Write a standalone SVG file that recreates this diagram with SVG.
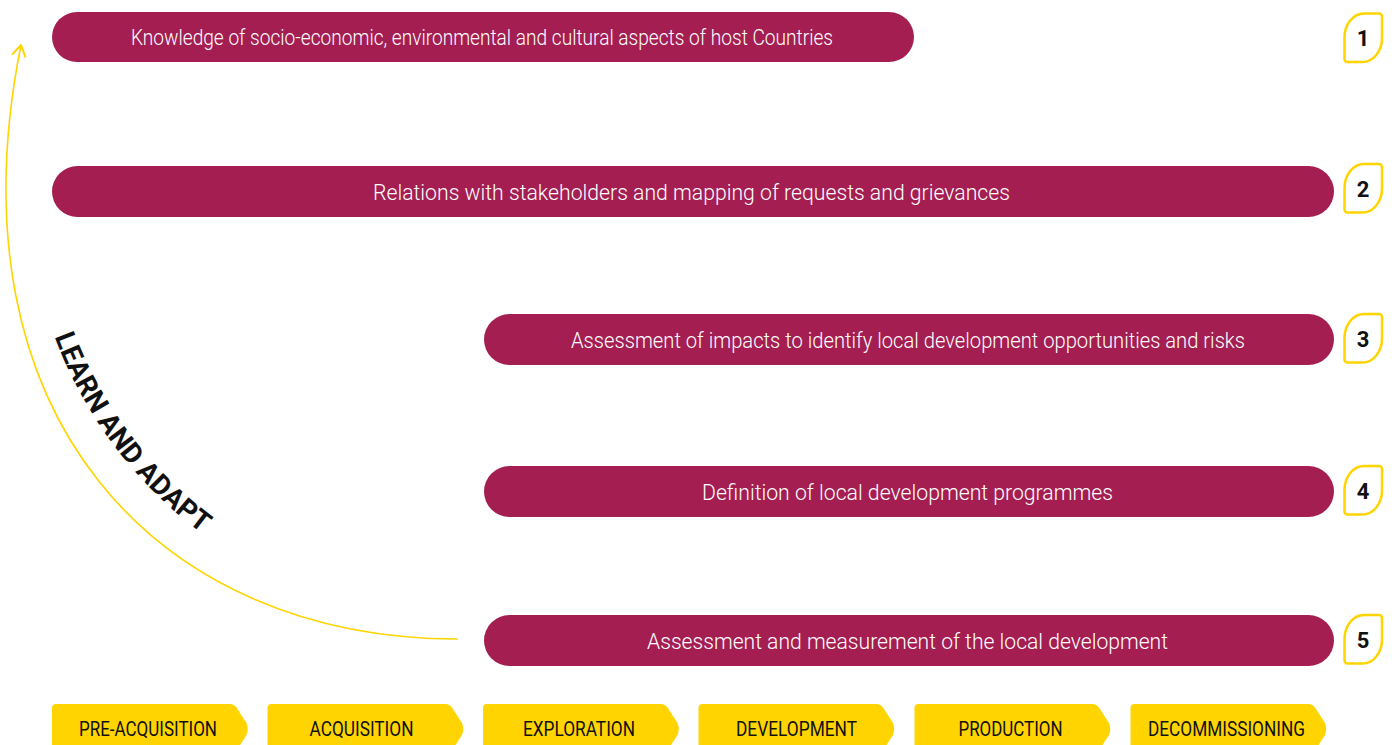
<svg xmlns="http://www.w3.org/2000/svg" width="1392" height="745" viewBox="0 0 1392 745">
  <style>
    .bar { fill: #A41E52; }
    .bartxt { font-family: Roboto, "Liberation Sans", sans-serif; font-weight: 300; font-size: 22px; fill: #FFFFFF; text-anchor: middle; }
    .badge { fill: #FFFFFF; stroke: #FFD400; stroke-width: 2.5; }
    .num { font-family: Roboto, "Liberation Sans", sans-serif; font-weight: 700; font-size: 22px; fill: #111111; text-anchor: middle; }
    .tab { fill: #FFD400; }
    .tabtxt { font-family: Roboto, "Liberation Sans", sans-serif; font-weight: 400; font-size: 21px; fill: #111111; text-anchor: middle; }
    .loop { fill: none; stroke: #FFD400; stroke-width: 1.6; }
    .learn { font-family: Roboto, "Liberation Sans", sans-serif; font-weight: 700; font-size: 28px; fill: #111111; }
  </style>
  <defs>
    <marker id="arrow" markerUnits="userSpaceOnUse" markerWidth="20" markerHeight="20" refX="0" refY="0" viewBox="-12 -8 14 16" orient="auto">
      <path d="M-9,-5.5 L0,0 L-9,5.5" fill="none" stroke="#FFD400" stroke-width="1.6" stroke-linejoin="round"/>
    </marker>
    <path id="badgeShape" d="M0,46 L0,24 A19.5,24 0 0 1 19.5,0 L34.5,0 A3,3 0 0 1 37.5,3 L37.5,24.5 A19.5,24 0 0 1 18,48.5 L3,48.5 A3,3 0 0 1 0,45.5 Z"/>
    <path id="learnPath" d="M49.1,320.5 A432,432 0 0 0 244,561.1"/>
    <path id="tabShape" d="M52,708 Q52,704 56,704 L230,704 Q234,704 236.5,707.5 L246.5,723 Q249,729 246.5,735 L236.5,750.5 Q234,754 230,754 L52,754 Z"/>
  </defs>

  <g id="connectors">
    <path class="loop" d="M458,639 C158,639 -53.5,417 21,45" marker-end="url(#arrow)"/>
  </g>

  <g id="learn-label">
    <text class="learn"><textPath href="#learnPath" startOffset="17">LEARN AND ADAPT</textPath></text>
  </g>

  <g id="node-1">
    <rect class="bar" x="52" y="12" width="862" height="50" rx="25"/>
    <text class="bartxt" x="482" y="45" textLength="702" lengthAdjust="spacingAndGlyphs">Knowledge of socio-economic, environmental and cultural aspects of host Countries</text>
  </g>
  <g id="badge-1">
    <use href="#badgeShape" class="badge" x="1344.5" y="13.5"/>
    <text class="num" x="1363" y="46">1</text>
  </g>

  <g id="node-2">
    <rect class="bar" x="52" y="166" width="1282" height="51" rx="25.5"/>
    <text class="bartxt" x="691.5" y="199.5" textLength="637" lengthAdjust="spacingAndGlyphs">Relations with stakeholders and mapping of requests and grievances</text>
  </g>
  <g id="badge-2">
    <use href="#badgeShape" class="badge" x="1344.5" y="164"/>
    <text class="num" x="1363" y="197">2</text>
  </g>

  <g id="node-3">
    <rect class="bar" x="484" y="314" width="850" height="51" rx="25.5"/>
    <text class="bartxt" x="908" y="347.5" textLength="674" lengthAdjust="spacingAndGlyphs">Assessment of impacts to identify local development opportunities and risks</text>
  </g>
  <g id="badge-3">
    <use href="#badgeShape" class="badge" x="1344.5" y="314"/>
    <text class="num" x="1363" y="347">3</text>
  </g>

  <g id="node-4">
    <rect class="bar" x="484" y="466" width="850" height="51" rx="25.5"/>
    <text class="bartxt" x="907.5" y="499.5" textLength="411" lengthAdjust="spacingAndGlyphs">Definition of local development programmes</text>
  </g>
  <g id="badge-4">
    <use href="#badgeShape" class="badge" x="1344.5" y="466"/>
    <text class="num" x="1363" y="499">4</text>
  </g>

  <g id="node-5">
    <rect class="bar" x="484" y="615" width="850" height="51" rx="25.5"/>
    <text class="bartxt" x="907.5" y="648.5" textLength="521" lengthAdjust="spacingAndGlyphs">Assessment and measurement of the local development</text>
  </g>
  <g id="badge-5">
    <use href="#badgeShape" class="badge" x="1344.5" y="615"/>
    <text class="num" x="1363" y="648">5</text>
  </g>

  <g id="phase-1">
    <use href="#tabShape" class="tab"/>
    <text class="tabtxt" x="148" y="736" textLength="138" lengthAdjust="spacingAndGlyphs">PRE-ACQUISITION</text>
  </g>
  <g id="phase-2" transform="translate(215.5,0)">
    <use href="#tabShape" class="tab"/>
    <text class="tabtxt" x="146" y="736" textLength="104" lengthAdjust="spacingAndGlyphs">ACQUISITION</text>
  </g>
  <g id="phase-3" transform="translate(431,0)">
    <use href="#tabShape" class="tab"/>
    <text class="tabtxt" x="148" y="736" textLength="112" lengthAdjust="spacingAndGlyphs">EXPLORATION</text>
  </g>
  <g id="phase-4" transform="translate(646.5,0)">
    <use href="#tabShape" class="tab"/>
    <text class="tabtxt" x="150" y="736" textLength="121" lengthAdjust="spacingAndGlyphs">DEVELOPMENT</text>
  </g>
  <g id="phase-5" transform="translate(862.5,0)">
    <use href="#tabShape" class="tab"/>
    <text class="tabtxt" x="148" y="736" textLength="104" lengthAdjust="spacingAndGlyphs">PRODUCTION</text>
  </g>
  <g id="phase-6" transform="translate(1078.5,0)">
    <use href="#tabShape" class="tab"/>
    <text class="tabtxt" x="148" y="736" textLength="157" lengthAdjust="spacingAndGlyphs">DECOMMISSIONING</text>
  </g>
</svg>
